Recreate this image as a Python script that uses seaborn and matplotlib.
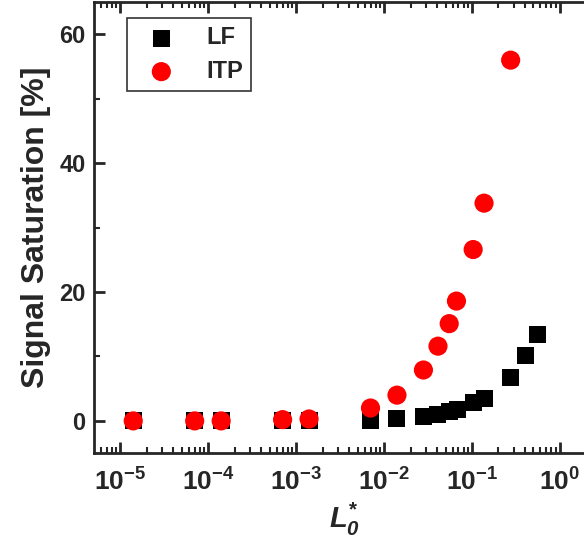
import numpy as np
import pandas as pd
import matplotlib
matplotlib.use("Agg")
import matplotlib.pyplot as plt
import matplotlib.ticker as mticker
import seaborn as sns

# values
lf_x = [1.4e-5, 7e-5, 1.4e-4, 7e-4, 1.4e-3, 7e-3, 1.4e-2, 2.8e-2, 4.1e-2,
        5.5e-2, 6.9e-2, 0.103, 0.137, 0.275, 0.41, 0.55]
lf_y = [0.0, 0.0, 0.0, 0.0, 0.0, 0.0, 0.35, 0.65, 1.0, 1.4, 1.8, 2.8, 3.5,
        6.8, 10.2, 13.4]
itp_x = [1.4e-5, 7e-5, 1.4e-4, 7e-4, 1.4e-3, 7e-3, 1.4e-2, 2.8e-2, 4.1e-2,
         5.5e-2, 6.65e-2, 0.103, 0.137, 0.275]
itp_y = [0.0, 0.0, 0.0, 0.2, 0.3, 2.0, 4.0, 7.9, 11.6, 15.1, 18.6, 26.6,
         33.8, 56.0]

sns.set_style("ticks")
plt.rcParams["font.family"] = ["Liberation Sans", "DejaVu Sans"]
plt.rcParams["font.weight"] = "bold"
plt.rcParams["mathtext.fontset"] = "custom"
plt.rcParams["mathtext.rm"] = "Liberation Sans:bold"
plt.rcParams["mathtext.bf"] = "Liberation Sans:bold"
plt.rcParams["mathtext.it"] = "Liberation Sans:italic:bold"
plt.rcParams["mathtext.bfit"] = "Liberation Sans:italic:bold"

lf = pd.DataFrame({"x": lf_x, "y": lf_y})
itp = pd.DataFrame({"x": itp_x, "y": itp_y})

fig = plt.figure(figsize=(5.84, 5.42), dpi=100)
ax = fig.add_axes([0.161, 0.164, 0.858, 0.832])

sns.scatterplot(data=lf, x="x", y="y", marker="s", s=150, color="black",
                edgecolor="none", label="LF", ax=ax, zorder=3)
sns.scatterplot(data=itp, x="x", y="y", marker="o", s=190, color="red",
                edgecolor="none", label="ITP", ax=ax, zorder=4)

ax.set_xscale("log")
ax.set_xlim(10 ** -5.3, 10 ** 0.4)
ax.set_ylim(-5, 65)
ax.set_yticks([0, 20, 40, 60])
ax.yaxis.set_minor_locator(mticker.MultipleLocator(10))
ax.xaxis.set_major_locator(mticker.LogLocator(base=10, numticks=10))
ax.xaxis.set_minor_locator(mticker.LogLocator(base=10, subs=np.arange(2, 10), numticks=20))
ax.xaxis.set_minor_formatter(mticker.NullFormatter())

for s in ax.spines.values():
    s.set_linewidth(2)
ax.tick_params(which="major", direction="in", length=8, width=2,
               top=True, right=True)
ax.tick_params(axis="x", which="major", labelsize=19, pad=11)
ax.tick_params(axis="y", which="major", labelsize=17, pad=6)
ax.tick_params(which="minor", direction="in", length=4, width=1.5,
               top=True, right=True)

ax.set_xlabel(r"$L_{\mathbfit{0}}^{*}$", fontsize=21, labelpad=4)
ax.set_ylabel("Signal Saturation [%]", fontsize=23, fontweight="bold", labelpad=6)

leg = ax.legend(loc="upper left", bbox_to_anchor=(0.066, 0.965),
                borderaxespad=0, fancybox=False, edgecolor="black",
                prop={"size": 17, "weight": "bold"}, handletextpad=0.8,
                handlelength=2.2, borderpad=0.35, labelspacing=0.45)
leg.get_frame().set_linewidth(1.2)

fig.savefig("out.png", dpi=100)
